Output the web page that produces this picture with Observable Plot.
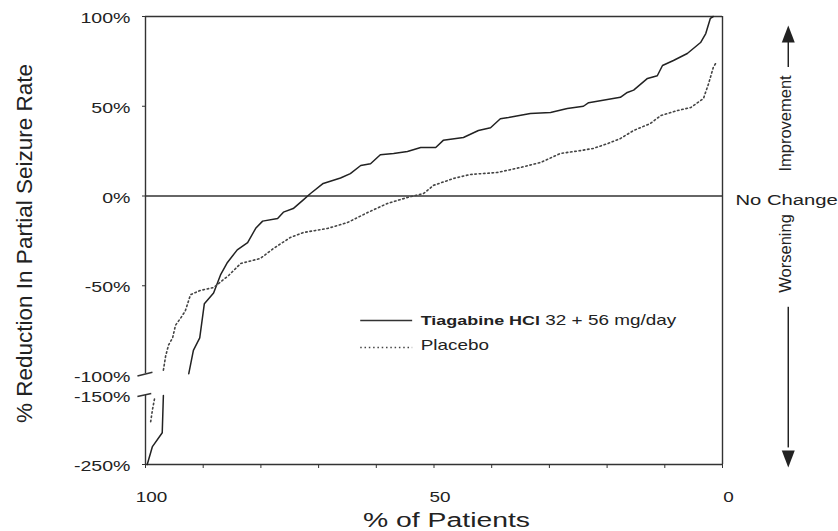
<!DOCTYPE html>
<html><head><meta charset="utf-8">
<script src="https://cdn.jsdelivr.net/npm/d3@7"></script>
<script src="https://cdn.jsdelivr.net/npm/@observablehq/plot@0.6"></script>
<style>body{margin:0;background:#fff}</style>
</head><body><div id="chart"></div>
<script>
// % of patients (x, reversed) and % reduction in partial seizure rate (y); NaN = axis break gap
const tiagabinePct = [99.7,98.8,97.1,96.9,95,92.5,91.7,90.6,89.8,88.2,87.0,85.8,84.1,82.3,80.9,79.7,77.1,76.1,74.4,72.6,71.4,69.2,66.2,64.5,62.7,61.0,59.3,57.0,54.6,52.3,49.7,48.4,44.9,42.3,40.2,38.5,37.1,33.3,29.8,26.9,24.1,23.2,17.7,16.5,15.4,13.0,11.3,10.4,8.5,6.1,3.8,2.9,2.1,1.6];
const tiagabineRed = [-250,-224,-204,-150,NaN,-99,-86,-79,-60,-54,-44,-37,-30,-26,-18,-14,-12.5,-9,-7,-2,1.4,7,10,12.5,17,18,23,23.7,24.8,27,27,31,32.6,36.5,38,43,43.7,46,46.5,48.7,50,52,55,57.7,59,65.5,67,72.7,75.5,79.4,85.5,90.5,99,100];
const placeboPct = [99.1,98.8,98.4,97.5,96.9,96.5,96.0,95.3,94.8,93.9,93.1,92.2,90.5,88.2,87.3,85.6,83.5,80.1,77.8,74.9,72.6,68.5,65.0,61.5,58.1,54.6,51.8,50.1,46.6,43.7,39.0,35.0,31.5,28.1,24.6,22.4,19.9,17.7,15.4,12.5,10.7,7.8,5.5,3.3,2.4,1.6,1.2];
const placeboRed = [-188,-171,-153,NaN,-97,-89,-83,-79,-72,-68,-64,-55,-52.6,-51,-48.7,-44.3,-37.6,-34.8,-29.2,-23.1,-20.3,-18.1,-14.8,-9.2,-4.2,-0.8,1.4,5.9,9.8,12,13.1,15.9,18.7,23.7,25.3,26.5,29.2,32,36.5,40.4,44.8,47.6,49.3,54.3,62.7,71.6,73.8];

const yTickValues = [100,50,0,-50,-100,-150,-250];
const yTickMarks = [100,50,0,-50,-250];
const xTickLabels = [100,50,0];
const xTickMarks = [100,90,80,70,60,50,40,30,20,10,0];
const seriesLabels = ["Tiagabine HCl", "32 + 56 mg/day", "Placebo"];
const yTitle = "% Reduction In Partial Seizure Rate";
const xTitle = "% of Patients";
const sideLabels = ["Improvement", "No Change", "Worsening"];

const FONT = "'Liberation Sans', Arial, Helvetica, sans-serif";
const SX = 1.35;
const INK = "#222";
const annX = -11.4;

const tia = tiagabinePct.map((x, i) => ({x, y: tiagabineRed[i]}));
const pla = placeboPct.map((x, i) => ({x, y: placeboRed[i]}));

const upTri = {draw(c) { c.moveTo(0, 0); c.lineTo(6.5, 17); c.lineTo(-6.5, 17); c.closePath(); }};
const downTri = {draw(c) { c.moveTo(0, 0); c.lineTo(6.5, -17); c.lineTo(-6.5, -17); c.closePath(); }};

const chart = Plot.plot({
  width: 838, height: 531,
  marginLeft: 145, marginRight: 116, marginTop: 16, marginBottom: 67,
  style: {fontFamily: FONT, color: INK, background: "#fff", overflow: "visible"},
  x: {domain: [100, 0], range: [145, 722]},
  y: {type: "linear", domain: [-250, -150, -100, 100], range: [464, 395, 375, 16]},
  marks: [
    // frame
    Plot.ruleY([100], {x1: 100, x2: 0, stroke: "#333", strokeWidth: 1.4}),
    Plot.ruleY([-250], {x1: 100, x2: 0, stroke: "#333", strokeWidth: 1.4}),
    Plot.ruleY([0], {x1: 100, x2: 0, stroke: "#333", strokeWidth: 1.4}),
    Plot.ruleX([0], {y1: -250, y2: 100, stroke: "#333", strokeWidth: 1.4}),
    Plot.ruleX([100], {y1: -99, y2: 100, stroke: "#333", strokeWidth: 1.4}),
    Plot.ruleX([100], {y1: -250, y2: -150, stroke: "#333", strokeWidth: 1.4}),
    // axis-break marks
    Plot.link([{x1: 101.4, y1: -101.2, x2: 98.8, y2: -98.2}, {x1: 101.4, y1: -151.4, x2: 99.0, y2: -145}],
      {x1: "x1", y1: "y1", x2: "x2", y2: "y2", stroke: "#333", strokeWidth: 1.6}),
    // axes
    Plot.axisY({ticks: yTickMarks, tickSize: 3, tickFormat: () => "", label: null, stroke: "#333"}),
    Plot.axisY({ticks: yTickValues, tickSize: 0, tickPadding: 15, tickFormat: d => d + "%", fontSize: 14.5, dy: 2, label: null}),
    Plot.axisX({ticks: xTickMarks, tickSize: 4, tickFormat: () => "", label: null, stroke: "#333"}),
    Plot.axisX({ticks: xTickLabels, tickSize: 0, tickPadding: 28, fontSize: 14, dx: 6, label: null}),
    // data
    Plot.line(tia, {x: "x", y: "y", stroke: INK, strokeWidth: 1.5}),
    Plot.line(pla, {x: "x", y: "y", stroke: "#444", strokeWidth: 1.6, strokeDasharray: "1.5,2.8"}),
    // titles
    Plot.text([yTitle], {text: d => d, frameAnchor: "left", textAnchor: "middle", lineAnchor: "middle", dx: -121, dy: 3, rotate: -90, fontSize: 22.5, fill: INK}),
    Plot.text([xTitle], {text: d => d, frameAnchor: "bottom", textAnchor: "middle", lineAnchor: "middle", dx: 12.5, dy: 56, fontSize: 21, fill: INK}),
    // side annotations
    Plot.text([{y: 40.4, t: sideLabels[0]}], {y: "y", text: "t", frameAnchor: "right", textAnchor: "middle", lineAnchor: "middle", dx: 63, rotate: -90, fontSize: 16.5, fill: INK}),
    Plot.text([{y: 0, t: sideLabels[1]}], {y: "y", text: "t", frameAnchor: "right", dx: 13, dy: 4, textAnchor: "start", lineAnchor: "middle", fontSize: 15, fill: INK}),
    Plot.text([{y: -32, t: sideLabels[2]}], {y: "y", text: "t", frameAnchor: "right", textAnchor: "middle", lineAnchor: "middle", dx: 63, rotate: -90, fontSize: 16.5, fill: INK}),
    Plot.ruleX([annX], {y1: 71.6, y2: 86, stroke: INK, strokeWidth: 1.5}),
    Plot.ruleX([annX], {y1: -62, y2: -226, stroke: INK, strokeWidth: 1.5}),
    Plot.dot([{x: annX, y: 95}], {x: "x", y: "y", symbol: upTri, fill: INK, stroke: null}),
    Plot.dot([{x: annX, y: -254.3}], {x: "x", y: "y", symbol: downTri, fill: INK, stroke: null}),
    // legend
    Plot.ruleY([-69.4], {x1: 62.7, x2: 53.7, stroke: "#333", strokeWidth: 1.5}),
    Plot.ruleY([-84.4], {x1: 62.7, x2: 53.7, stroke: "#444", strokeWidth: 1.6, strokeDasharray: "1.5,2.8"}),
    Plot.text([{x: 52.3, y: -69.4, t: seriesLabels[0]}], {x: "x", y: "y", text: "t", textAnchor: "start", fontWeight: "bold", fontSize: 13.3, fill: INK}),
    Plot.text([{x: 30.7, y: -69.4, t: seriesLabels[1]}], {x: "x", y: "y", text: "t", textAnchor: "start", fontSize: 14, fill: INK}),
    Plot.text([{x: 52.3, y: -83.3, t: seriesLabels[2]}], {x: "x", y: "y", text: "t", textAnchor: "start", fontSize: 14, fill: INK})
  ]
});

// the reference type is horizontally wide: stretch non-rotated labels about their anchor
d3.select(chart).selectAll("text").each(function () {
  let tr = this.getAttribute("transform") || "";
  if (tr.includes("rotate")) return;
  const x = +this.getAttribute("x") || 0;
  if (x) { this.removeAttribute("x"); tr += ` translate(${x},0)`; }
  this.setAttribute("transform", `${tr} scale(${SX},1)`);
});

document.getElementById("chart").appendChild(chart);
</script>
</body></html>
